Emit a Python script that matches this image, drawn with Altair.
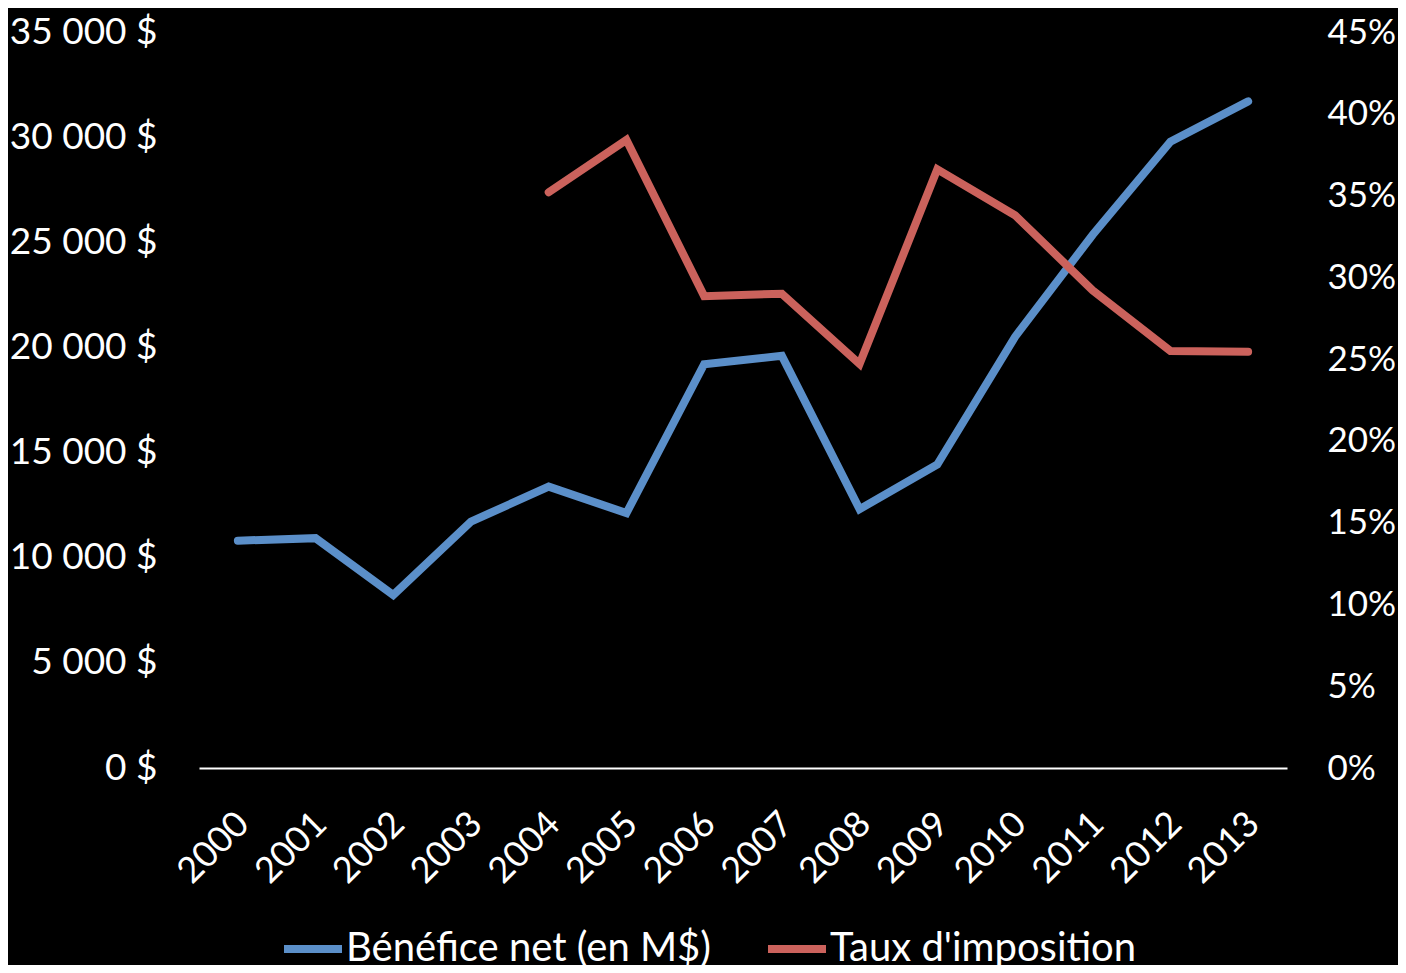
import altair as alt
import pandas as pd

years = [str(y) for y in range(2000, 2014)]
benefice = [10810, 10930, 8230, 11720, 13380, 12120, 19200, 19600, 12310, 14430, 20500, 25360, 29780, 31700]
taux_years = [str(y) for y in range(2004, 2014)]
taux = [0.352, 0.384, 0.2885, 0.290, 0.247, 0.366, 0.338, 0.292, 0.255, 0.2545]

s_ben = "Bénéfice net (en M$)"
s_taux = "Taux d'imposition"
series = [s_ben, s_taux]
colors = ["#5B8FC9", "#CB625C"]
left_ticks = [0, 5000, 10000, 15000, 20000, 25000, 30000, 35000]
right_ticks = [0, 0.05, 0.10, 0.15, 0.20, 0.25, 0.30, 0.35, 0.40, 0.45]

df_ben = pd.DataFrame({"year": years, "value": benefice, "serie": s_ben})
df_taux = pd.DataFrame({"year": taux_years, "value": taux, "serie": s_taux})

FONT = "Lato"
FS = 37
XFS = 36
RFS = 35
LFS = 40

x_enc = alt.X(
    "year:O",
    scale=alt.Scale(type="point", domain=years, padding=0.5),
    axis=alt.Axis(
        title=None, labelAngle=-45, labelAlign="right", labelBaseline="middle",
        labelPadding=50, labelOffset=5, ticks=False, domainColor="white",
        domainWidth=2, labelColor="white", labelFontSize=XFS, labelFont=FONT, grid=False,
    ),
)

color_enc = alt.Color(
    "serie:N",
    scale=alt.Scale(domain=series, range=colors),
    legend=alt.Legend(
        title=None, orient="none", direction="horizontal", legendX=81, legendY=884,
        symbolType="stroke", symbolSize=3364, symbolStrokeWidth=8,
        labelFontSize=LFS, labelFont=FONT, labelColor="white", labelLimit=600,
        columnPadding=41, labelOffset=0,
    ),
)

blue = alt.Chart(df_ben).mark_line(strokeWidth=8, strokeCap="round").encode(
    x=x_enc,
    y=alt.Y(
        "value:Q",
        scale=alt.Scale(domain=[0, 35000]),
        axis=alt.Axis(
            title=None, orient="left", values=left_ticks, grid=False, domain=False,
            ticks=False, labelPadding=42, labelColor="white", labelFontSize=FS,
            labelFont=FONT, labelExpr="replace(format(datum.value, ',d'), ',', ' ') + ' $'",
        ),
    ),
    color=color_enc,
)

red = alt.Chart(df_taux).mark_line(strokeWidth=8, strokeCap="round").encode(
    x=x_enc,
    y=alt.Y(
        "value:Q",
        scale=alt.Scale(domain=[0, 0.45]),
        axis=alt.Axis(
            title=None, orient="right", values=right_ticks, format=".0%", grid=False,
            domain=False, ticks=False, labelPadding=40, labelColor="white",
            labelFontSize=RFS, labelFont=FONT, labelAlign="left",
        ),
    ),
    color=color_enc,
)

chart = (
    alt.layer(blue, red)
    .resolve_scale(y="independent")
    .properties(
        width=1088, height=736,
        autosize=alt.AutoSizeParams(type="none"),
        padding={"left": 191, "top": 24, "right": 111, "bottom": 197},
        background="black",
    )
    .configure_view(stroke=None)
)

chart.save("out.html", embed_options={"renderer": "svg", "actions": False})
